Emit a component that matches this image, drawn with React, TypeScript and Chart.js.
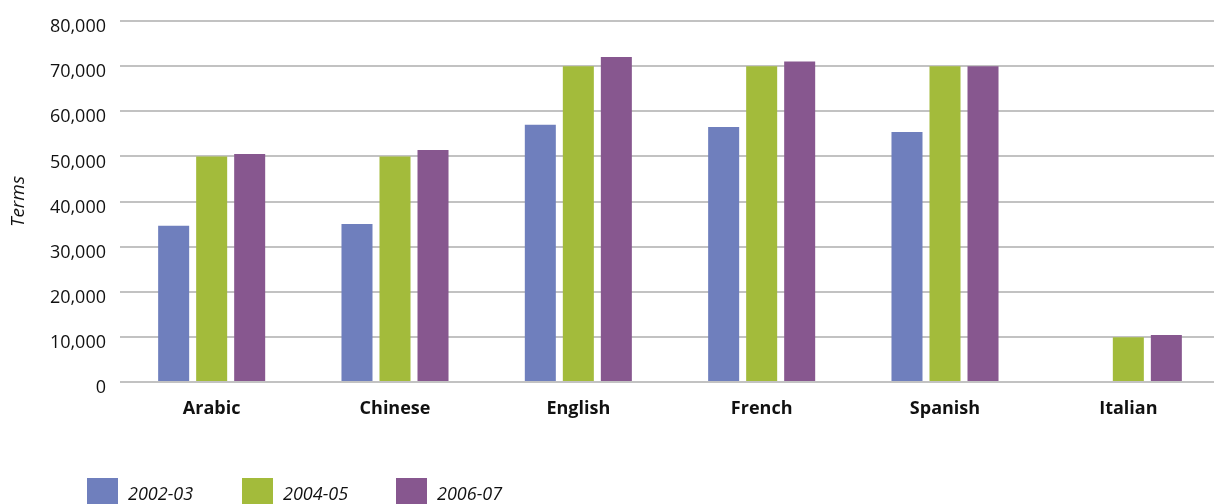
import React, { useEffect, useRef } from "react";
import { Chart, registerables } from "chart.js";

Chart.register(...registerables);

const categories = ["Arabic", "Chinese", "English", "French", "Spanish", "Italian"];
const series2002 = [34600, 35000, 57000, 56500, 55400, null];
const series2004 = [50000, 50000, 70000, 70000, 70000, 9900];
const series2006 = [50500, 51400, 72000, 71000, 70000, 10400];
const seriesLabels = ["2002-03", "2004-05", "2006-07"];
const seriesColors = ["#6f7fbd", "#a3bb3b", "#87578f"];
const yTicks = [0, 10000, 20000, 30000, 40000, 50000, 60000, 70000, 80000];

const FONT = "'Open Sans', 'Noto Sans', sans-serif";

export default function App() {
  const ref = useRef<HTMLCanvasElement | null>(null);

  useEffect(() => {
    if (!ref.current) return;
    const values = [series2002, series2004, series2006];
    const chart = new Chart(ref.current, {
      type: "bar",
      data: {
        labels: categories,
        datasets: seriesLabels.map((l, i) => ({
          label: l,
          data: values[i] as any,
          backgroundColor: seriesColors[i],
          borderWidth: 0,
          categoryPercentage: 0.622,
          barPercentage: 0.816,
        })),
      },
      options: {
        responsive: false,
        animation: false,
        layout: { padding: { top: 21, bottom: 82, left: 0, right: 0 } },
        plugins: {
          legend: { display: false },
          tooltip: { enabled: false },
        },
        scales: {
          x: {
            grid: { display: false, drawTicks: false },
            border: { display: false },
            ticks: {
              color: "#111",
              padding: 16,
              font: { family: FONT, size: 18, weight: "bold" },
            },
            afterFit: (s: any) => {
              s.height = 40;
              s.paddingLeft = 0;
              s.paddingRight = 0;
            },
          },
          y: {
            min: 0,
            max: 80000,
            afterBuildTicks: (s: any) => {
              s.ticks = yTicks.map((v) => ({ value: v }));
            },
            grid: { color: "#c2c2c2", lineWidth: 2, drawTicks: false },
            border: { display: false },
            ticks: {
              color: "#111",
              padding: 14,
              labelOffset: 6,
              font: { family: FONT, size: 18 },
              callback: (v: any) => Number(v).toLocaleString("en-US"),
            },
            title: {
              display: true,
              text: "Terms",
              color: "#111",
              font: { family: FONT, size: 19, style: "italic" },
              padding: { top: 7, bottom: 0 },
            },
            afterFit: (s: any) => {
              s.width = 120;
              s.paddingTop = 0;
              s.paddingBottom = 0;
            },
          },
        },
      },
    });
    return () => chart.destroy();
  }, []);

  const legendX = [87, 242, 396];

  return (
    <div
      style={{
        position: "fixed",
        left: 0,
        top: 0,
        width: 1214,
        height: 504,
        overflow: "hidden",
        background: "#fff",
      }}
    >
      <canvas ref={ref} width={1220} height={504} style={{ display: "block" }} />
      {seriesLabels.map((l, i) => (
        <div
          key={l}
          style={{
            position: "absolute",
            left: legendX[i],
            top: 478,
            display: "flex",
            alignItems: "flex-start",
          }}
        >
          <div style={{ width: 31, height: 28, background: seriesColors[i] }} />
          <span
            style={{
              marginLeft: 10,
              marginTop: 3,
              fontFamily: FONT,
              fontStyle: "italic",
              fontSize: 18,
              color: "#111",
              lineHeight: "24px",
            }}
          >
            {l}
          </span>
        </div>
      ))}
    </div>
  );
}
